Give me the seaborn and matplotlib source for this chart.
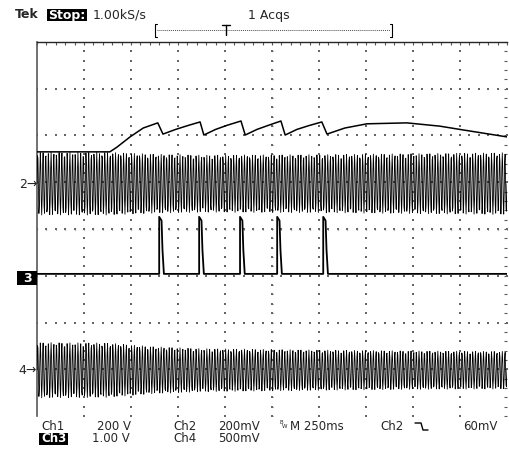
import numpy as np
import matplotlib
matplotlib.use('Agg')
import matplotlib.pyplot as plt
from matplotlib.lines import Line2D
from matplotlib.patches import Rectangle
import seaborn as sns

sns.set_style('white')
plt.rcParams['font.family'] = ['DejaVu Sans']

# all traces in screen divisions: x 0..10 (250 ms/div), y -4..4
# Ch1 - slow envelope with sawtooth drops
ch1_t = [0, 1.55, 1.70, 1.98, 2.26, 2.57, 2.68, 2.95, 3.20, 3.47, 3.55, 3.80, 4.05, 4.34, 4.43,
         4.68, 4.93, 5.19, 5.28, 5.53, 5.78, 6.06, 6.17, 6.55, 7.02, 7.87, 8.57, 9.06, 10.0]
ch1_v = [1.65, 1.65, 1.75, 1.97, 2.16, 2.27, 2.03, 2.13, 2.21, 2.29, 2.01, 2.13, 2.22, 2.31, 2.01,
         2.13, 2.22, 2.31, 2.01, 2.13, 2.21, 2.29, 2.03, 2.16, 2.25, 2.27, 2.20, 2.12, 1.97]

# Ch2 / Ch4 - fast oscillation, envelope
env_t = [0, 1.5, 2.5, 3.5, 6, 8, 10]
ch2_center = 0.97
ch2_amp = [0.67, 0.67, 0.63, 0.61, 0.62, 0.64, 0.66]
ch4_center = -3.02
ch4_amp = [0.59, 0.58, 0.50, 0.46, 0.43, 0.41, 0.40]
record_len = 1000
cycles_per_div = 17.5

# Ch3 - pulse train
ch3_base = -0.96
pulse_start = [2.60, 3.45, 4.32, 5.11, 6.09]
pulse_dt = [0, 0, 0.05, 0.07, 0.10]
pulse_v = [-0.96, 0.26, 0.18, -0.45, -0.96]

t = np.linspace(0, 10, record_len)
carrier = np.sin(2 * np.pi * cycles_per_div * t)
ch2 = ch2_center + np.interp(t, env_t, ch2_amp) * carrier
ch4 = ch4_center + np.interp(t, env_t, ch4_amp) * carrier

ch3_t, ch3_v = [0], [ch3_base]
for s in pulse_start:
    ch3_t += [s + d for d in pulse_dt]
    ch3_v += pulse_v
ch3_t.append(10)
ch3_v.append(ch3_base)

W, H = 509, 450
fig = plt.figure(figsize=(W / 100, H / 100), dpi=100)
ax = fig.add_axes([37 / W, (H - 416) / H, 470 / W, 374 / H])


def fx(x):
    return x / W


def fy(y):
    return 1 - y / H


def inv_label(x0, y0, x1, y1, s, size):
    # white text in a black box, box given in screen pixels
    fig.add_artist(Rectangle((fx(x0), fy(y1)), fx(x1) - fx(x0), fy(y0) - fy(y1),
                             facecolor='black', edgecolor='none', transform=fig.transFigure))
    fig.text(fx((x0 + x1) / 2), fy((y0 + y1) / 2), s, fontsize=size, color='white',
             fontweight='bold', ha='center', va='center')


# graticule dots
minor = np.round(np.arange(0, 10.01, 0.2), 2)
minor_y = np.round(np.arange(-4, 4.01, 0.2), 2)
gx, gy = [], []
for mx in range(1, 10):
    gx += [mx] * len(minor_y)
    gy += list(minor_y)
for my in range(-3, 4):
    gx += list(minor)
    gy += [my] * len(minor)
ax.scatter(gx, gy, s=1.0, marker='s', color='0.4', linewidths=0, zorder=1)
# centre cross ticks
ax.scatter(minor, np.zeros_like(minor), s=4, marker='|', color='0.4', linewidths=0.8, zorder=1)
ax.scatter(np.full_like(minor_y, 5.0), minor_y, s=4, marker='_', color='0.4', linewidths=0.8, zorder=1)

sns.lineplot(x=t, y=ch2, ax=ax, color='black', linewidth=0.6, sort=False, estimator=None, zorder=3)
sns.lineplot(x=t, y=ch4, ax=ax, color='black', linewidth=0.6, sort=False, estimator=None, zorder=3)
sns.lineplot(x=ch3_t, y=ch3_v, ax=ax, color='black', linewidth=1.3, sort=False, estimator=None, zorder=4)
sns.lineplot(x=ch1_t, y=ch1_v, ax=ax, color='black', linewidth=1.1, sort=False, estimator=None, zorder=5)

ax.set_xlim(0, 10)
ax.set_ylim(-4, 4)
ax.set_xticks(minor)
ax.set_yticks(minor_y)
ax.tick_params(direction='in', length=2.5, width=0.8, color='0.35', top=True, right=True,
               labelbottom=False, labelleft=False)
ax.spines['right'].set_visible(False)
ax.spines['bottom'].set_visible(False)
ax.spines['left'].set_linewidth(1.2)
ax.spines['left'].set_color('0.35')
ax.spines['top'].set_linewidth(1.0)
ax.set_xlabel('')
ax.set_ylabel('')

fs = 8.5
hs = 9

# header
fig.text(fx(15), fy(15), 'Tek', fontsize=hs, va='center', fontweight='bold')
inv_label(47, 9, 87, 21, 'Stop:', hs)
fig.text(fx(93), fy(15), '1.00kS/s', fontsize=hs, va='center')
fig.text(fx(248), fy(15), '1 Acqs', fontsize=hs, va='center')

# trigger position bar
fig.add_artist(Line2D([fx(157), fx(390)], [fy(30), fy(30)], color='0.3', linewidth=0.7, linestyle=(0, (1, 1))))
fig.add_artist(Line2D([fx(157), fx(155), fx(155), fx(157)], [fy(24), fy(24), fy(37), fy(37)], color='black', linewidth=0.8))
fig.add_artist(Line2D([fx(390), fx(392), fx(392), fx(390)], [fy(24), fy(24), fy(37), fy(37)], color='black', linewidth=0.8))
fig.add_artist(Line2D([fx(222), fx(230)], [fy(25), fy(25)], color='black', linewidth=1.0))
fig.add_artist(Line2D([fx(226), fx(226)], [fy(25), fy(35)], color='black', linewidth=1.0))

# channel markers
fig.text(fx(37), fy(184), '2\u2192', fontsize=hs, va='center', ha='right')
inv_label(17, 271, 37, 285, '3', hs)
fig.text(fx(37), fy(370), '4\u2192', fontsize=hs, va='center', ha='right')

# footer
r1, r2 = fy(426), fy(439)
fig.text(fx(41), r1, 'Ch1', fontsize=fs, va='center')
fig.text(fx(97), r1, '200 V', fontsize=fs, va='center')
fig.text(fx(173), r1, 'Ch2', fontsize=fs, va='center')
fig.text(fx(218), r1, '200mV', fontsize=fs, va='center')
fig.text(fx(279), fy(423), 'B', fontsize=4, va='center')
fig.text(fx(282), fy(427), 'W', fontsize=4, va='center')
fig.text(fx(290), r1, 'M 250ms', fontsize=fs, va='center')
fig.text(fx(380), r1, 'Ch2', fontsize=fs, va='center')
fig.add_artist(Line2D([fx(415), fx(421), fx(423), fx(428)], [fy(423), fy(423), fy(430), fy(430)],
                      color='black', linewidth=1.0))
fig.text(fx(463), r1, '60mV', fontsize=fs, va='center')
inv_label(39, 433, 68, 445, 'Ch3', fs)
fig.text(fx(92), r2, '1.00 V', fontsize=fs, va='center')
fig.text(fx(173), r2, 'Ch4', fontsize=fs, va='center')
fig.text(fx(218), r2, '500mV', fontsize=fs, va='center')

fig.savefig('out.png', dpi=100)
